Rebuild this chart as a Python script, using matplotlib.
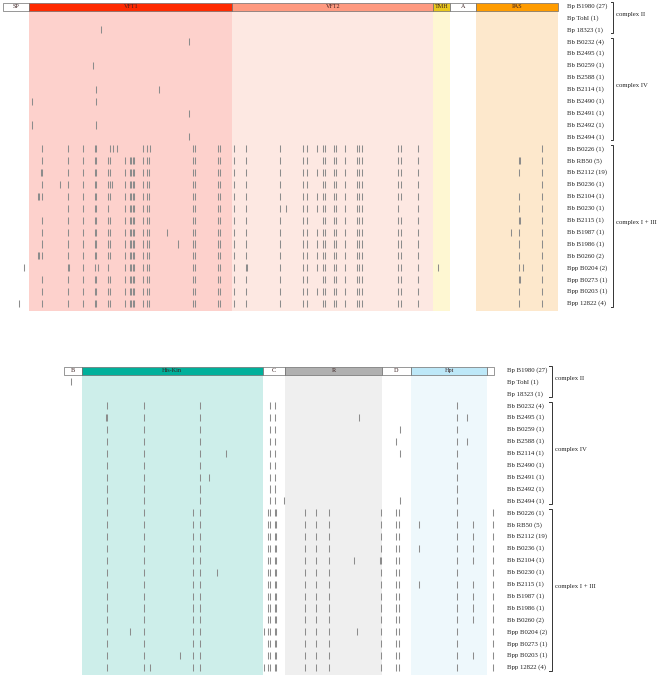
import matplotlib
matplotlib.use("Agg")
import matplotlib.pyplot as plt
from matplotlib.patches import Rectangle

# ---------------- data ----------------
row_labels = ["Bp B1980 (27)", "Bp TohI (1)", "Bp 18323 (1)", "Bb B0232 (4)", "Bb B2495 (1)",
              "Bb B0259 (1)", "Bb B2588 (1)", "Bb B2114 (1)", "Bb B2490 (1)", "Bb B2491 (1)",
              "Bb B2492 (1)", "Bb B2494 (1)", "Bb B0226 (1)", "Bb RB50 (5)", "Bb B2112 (19)",
              "Bb B0236 (1)", "Bb B2104 (1)", "Bb B0230 (1)", "Bb B2115 (1)", "Bb B1987 (1)",
              "Bb B1986 (1)", "Bb B0260 (2)", "Bpp B0204 (2)", "Bpp B0273 (1)", "Bpp B0203 (1)",
              "Bpp 12822 (4)"]
group_names = ["complex II", "complex IV", "complex I + III"]
group_first = [0, 3, 12]
group_last = [2, 11, 25]

# top protein domains (alignment column units)
top_domains = ["SP", "VFT1", "VFT2", "TMH", "A", "PAS"]
top_start = [3.3, 29.3, 232.3, 433.3, 450.0, 475.7]
top_end = [29.3, 232.3, 433.3, 450.0, 475.7, 557.7]
top_head_col = ["#ffffff", "#ff2a00", "#ff9a80", "#e9c81c", "#ffffff", "#ff9c00"]
top_bg_col = [None, "#fdd1cc", "#fde8e2", "#fef7d2", None, "#fde8cc"]

bot_domains = ["B", "His-Kin", "C", "R", "D", "Hpt", ""]
bot_start = [64.0, 81.7, 262.7, 285.0, 382.3, 410.7, 487.3]
bot_end = [81.7, 262.7, 285.0, 382.3, 410.7, 487.3, 494.0]
bot_head_col = ["#ffffff", "#00b09b", "#ffffff", "#b0b0b0", "#ffffff", "#bde8f8", "#ffffff"]
bot_bg_col = [None, "#cdeeea", None, "#efefef", None, "#eef8fc", None]

# substitution positions, top panel
t1 = [67.7, 83.3, 95, 96, 108.3, 110, 125, 130, 131, 133, 134, 142.7, 146.7, 149,
      193.3, 195, 218.3, 220]
t2 = [234.3, 245.7, 280, 303.3, 306.7, 323.3, 325, 334, 335.7, 345, 356.7, 359.3,
      361.7, 397.7, 401, 418.3]
top_ticks = [
    [], [], [101], [189], [], [93], [], [96, 159], [32, 96], [189], [32, 96], [189],
    [41.7, 67.7, 83.3, 95, 96, 110, 113.3, 116.7, 143.3, 146.7, 150, 193.3, 195, 218.3, 220]
    + t2 + [316.7, 541.7],
    [41.7] + t1 + t2 + [519.3, 520.3, 541.7],
    [41, 42] + t1 + t2 + [316.7, 519.3, 541.7],
    [41.7, 60, 111.7] + t1 + t2 + [541.7],
    [38.3, 39.3, 41.7] + t1 + t2 + [316.7, 519.3, 541.7],
    [67.7, 83.3, 95, 96, 108.3, 125, 130, 131, 133, 134, 142.7, 146.7, 149, 193.3, 195, 218.3, 220,
     234.3, 245.7, 280, 286, 303.3, 306.7, 316.7, 323.3, 325, 334, 335.7, 345, 356.7, 359.3,
     361.7, 397.7, 418.3, 519.3, 541.7],
    [41.7] + t1 + t2 + [519.3, 520.3, 541.7],
    [41.7, 166.7] + t1 + t2 + [316.7, 511, 519.3, 541.7],
    [41.7, 178.3] + t1 + t2 + [316.7, 519.3, 541.7],
    [38.3, 39.3, 41.7] + t1 + t2 + [316.7, 519.3, 541.7],
    [24, 68, 69, 83.3, 95, 98.3, 108.3, 125, 130, 131, 133, 134, 142.7, 146.7, 149, 193.3, 195,
     218.3, 220, 246.7] + t2 + [316.7, 437.7, 519.3, 523.3, 541.7],
    [41.7] + t1 + t2 + [519.3, 520.3, 541.7],
    [41.7] + t1 + t2 + [316.7, 519.3, 541.7],
    [19, 41.7] + t1 + t2 + [519.3, 541.7],
]

# substitution positions, bottom panel
b4 = [106.7, 144.3, 200, 270, 275, 456.7]
b13 = [106.7, 144.3, 193.3, 200, 267.7, 270, 275, 276, 305, 315.7, 329, 380.7, 395.7, 399,
       456.7, 493.3]
bot_ticks = [
    [], [70.7], [],
    b4, b4 + [106, 359.3, 466.7], b4 + [400], b4 + [395.7, 466.7], b4 + [226, 400], b4,
    b4 + [209.3], b4, b4 + [284.3, 400],
    b13, b13 + [419.3, 472.7], b13 + [472.7], b13 + [419.3, 472.7],
    b13 + [354, 379.7, 472.7], b13 + [217.3], b13 + [419.3, 472.7], b13 + [472.7],
    b13 + [472.7], b13 + [472.7], b13 + [130, 264.3, 357.3], b13, b13 + [180, 472.7],
    b13 + [150, 264.3],
]

# ---------------- drawing ----------------
W, H = 661, 679
fig = plt.figure(figsize=(W / 100, H / 100), dpi=100)
plt.rcParams['font.family'] = ['Liberation Serif', 'DejaVu Serif']
ROW = 11.9
FS = 4.9
TICK = "#8c8c8c"


def panel(top_px, bot_px, first_px, domains, starts, ends, hcols, bgcols, ticks,
          bg_bottom_px, label_x, brk_x):
    ax = fig.add_axes([0, 1 - bot_px / H, 1, (bot_px - top_px) / H])
    ax.set_xlim(0, W)
    ax.set_ylim((bot_px - first_px) / ROW, (top_px - first_px) / ROW)
    ax.axis("off")
    hy0, hy1 = -0.26, 0.38
    bg_end = (bg_bottom_px - first_px) / ROW
    for name, s, e, hc, bc in zip(domains, starts, ends, hcols, bgcols):
        if bc is not None:
            ax.add_patch(Rectangle((s, hy1), e - s, bg_end - hy1, facecolor=bc,
                                   edgecolor="none", zorder=0))
        ax.add_patch(Rectangle((s, hy0), e - s, hy1 - hy0, facecolor=hc,
                               edgecolor="#6e6e6e", lw=0.5, zorder=2))
        if name:
            ax.text((s + e) / 2, (hy0 + hy1) / 2, name, ha="center", va="center",
                    fontsize=4.4, color="#3a2020", zorder=3)
    for r, xs in enumerate(ticks):
        if xs:
            ax.vlines(xs, r - 0.3, r + 0.3, color=TICK, lw=0.75, zorder=1)
    for r, lab in enumerate(row_labels):
        ax.text(label_x, r, lab, ha="left", va="center", fontsize=FS, color="#222222")
    for name, a, b in zip(group_names, group_first, group_last):
        y0, y1 = a - 0.35, b + 0.3
        ax.plot([brk_x - 2.5, brk_x, brk_x, brk_x - 2.5], [y0, y0, y1, y1],
                color="#333333", lw=0.7, solid_joinstyle="miter")
        ax.text(brk_x + 3.5, (a + b) / 2 - 0.3, name, ha="left", va="center",
                fontsize=FS, color="#222222")
    return ax


panel(0, 320, 6, top_domains, top_start, top_end, top_head_col, top_bg_col, top_ticks,
      310.7, 567, 613)
panel(360, 679, 370, bot_domains, bot_start, bot_end, bot_head_col, bot_bg_col, bot_ticks,
      675, 507, 551.7)

fig.savefig("out.png", dpi=100)
